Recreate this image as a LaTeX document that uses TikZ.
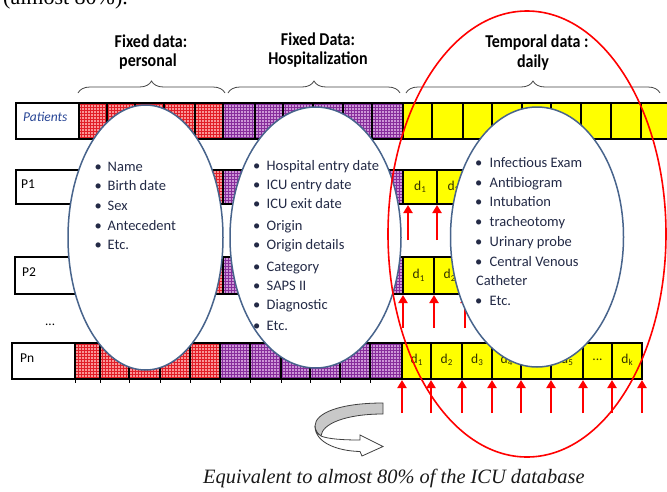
\documentclass[tikz,border=0pt]{standalone}
\usepackage{fontspec}
\setmainfont{Carlito}
\newfontfamily\capfont{Liberation Serif}
\usetikzlibrary{patterns,shapes.geometric,decorations.pathreplacing,arrows.meta}

\definecolor{redbase}{RGB}{250,150,150}
\definecolor{redgrid}{RGB}{225,30,40}
\definecolor{purplebase}{RGB}{205,150,215}
\definecolor{purplegrid}{RGB}{135,45,155}
\definecolor{cellyellow}{RGB}{255,255,0}
\definecolor{bubbleline}{RGB}{72,100,140}
\definecolor{bubbletext}{RGB}{35,42,70}
\definecolor{patblue}{RGB}{40,70,150}
\definecolor{arrowred}{RGB}{255,0,0}
\definecolor{daytext}{RGB}{50,50,0}
\definecolor{bracegray}{RGB}{70,70,70}
\definecolor{turngray}{RGB}{200,200,200}

% day cell label: d with a lowered index
\newcommand{\dsub}[1]{d\raisebox{-2.5pt}{\fontsize{9}{9}\selectfont #1}}
% slightly tall setting for the group headers
\newcommand{\tallhead}[1]{\scalebox{1}[1.13]{#1}}

% a run of cells: name prefix, top, bottom, style, list of left/right edges
\newcommand{\cellrow}[5]{%
  \foreach \a/\b [count=\i] in {#5} {
    \node[#4, anchor=north west, minimum width={(\b-\a)*1pt},
          minimum height={(#3-#2)*1pt}] (#1-\i) at (\a,#2) {};
  }}

\begin{document}
\begin{tikzpicture}[x=1pt, y=-1pt,
  cell/.style={draw=black, line width=1.1pt, inner sep=0pt, outer sep=0pt},
  whitecell/.style={cell, fill=white},
  redcell/.style={cell, preaction={fill=redbase}, pattern=grid, pattern color=redgrid},
  purplecell/.style={cell, preaction={fill=purplebase}, pattern=grid, pattern color=purplegrid},
  yellowcell/.style={cell, fill=cellyellow},
  rowframe/.style={draw=black, line width=2pt},
  uparrow/.style={draw=arrowred, line width=2pt, -{Triangle[length=8pt,width=9pt]}},
  bubble/.style={ellipse, draw=bubbleline, fill=white, line width=1.5pt, inner sep=0pt},
  listtext/.style={anchor=base west, inner sep=0pt, text=bubbletext, font=\fontsize{14.5}{16}\selectfont},
  header/.style={anchor=base, inner sep=0pt, font=\bfseries\fontsize{16}{18}\selectfont},
  rowlabel/.style={anchor=west, inner sep=0pt, font=\fontsize{13.5}{15}\selectfont},
  daylabel/.style={inner sep=0pt, text=daytext, font=\fontsize{13.5}{15}\selectfont},
  bracestyle/.style={draw=bracegray, line width=0.8pt, decorate, decoration={brace, amplitude=12pt}},
]
\useasboundingbox (0,0) rectangle (667,491);
\fill[white] (0,0) rectangle (667,491);
\begin{scope}
\clip (0,0) rectangle (667,491);

% end of the preceding text line
\node[anchor=base west, inner sep=0pt, font=\capfont\fontsize{22}{24}\selectfont] (prevline) at (3,4) {(almost 80\%).};

% group headers and braces
\node[header] (h1a) at (151,47) {\tallhead{Fixed data:}};
\node[header] (h1b) at (148,66) {\tallhead{personal}};
\node[header] (h2a) at (318,45) {\tallhead{Fixed Data:}};
\node[header] (h2b) at (318,64) {\tallhead{Hospitalization}};
\node[header] (h3a) at (537,47) {\tallhead{Temporal data :}};
\node[header] (h3b) at (533,67) {\tallhead{daily}};
\draw[bracestyle] (78,93) -- (225,93);
\draw[bracestyle] (228,93) -- (400,93);
\draw[bracestyle] (406,93) -- (660,93);

% header row
\node[whitecell, anchor=north west, minimum width=63pt, minimum height=36pt] (pat-lab) at (16,103) {};
\cellrow{pat-r}{103}{139}{redcell}{79/107,107/135,135/164,164/195,195/223}
\cellrow{pat-p}{103}{139}{purplecell}{223/255,255/283,283/313,313/343,343/372,372/403}
\cellrow{pat-y}{103}{139}{yellowcell}{403/432,432/463,463/492,492/522,522/551,551/581,581/611,611/641,641/690}
\draw[rowframe] (pat-lab.north west) rectangle (pat-y-9.south east);
\node[rowlabel, font=\itshape\fontsize{13.5}{15}\selectfont, text=patblue] (pat-text) at (23,117) {Patients};

% patient 1
\node[whitecell, anchor=north west, minimum width=63pt, minimum height=34pt] (p1-lab) at (16,170) {};
\cellrow{p1-r}{170}{204}{redcell}{79/107,107/135,135/164,164/195,195/223}
\cellrow{p1-p}{170}{204}{purplecell}{223/255,255/283,283/313,313/343,343/372,372/403}
\cellrow{p1-y}{170}{204}{yellowcell}{403/437,437/470,470/503}
\draw[rowframe] (p1-lab.north west) rectangle (p1-y-3.south east);
\node[rowlabel] (p1-text) at (21,184) {P1};
\foreach \i in {1,2} \node[daylabel] (p1-d\i) at (p1-y-\i) {\dsub{\i}};

% patient 2
\node[whitecell, anchor=north west, minimum width=63pt, minimum height=37pt] (p2-lab) at (15,257) {};
\cellrow{p2-r}{257}{294}{redcell}{78/107,107/135,135/164,164/195,195/223}
\cellrow{p2-p}{257}{294}{purplecell}{223/255,255/283,283/313,313/343,343/372,372/403}
\cellrow{p2-y}{257}{294}{yellowcell}{403/434,434/465,465/496}
\draw[rowframe] (p2-lab.north west) rectangle (p2-y-3.south east);
\node[rowlabel] (p2-text) at (22,272) {P2};
\foreach \i in {1,2} \node[daylabel] (p2-d\i) at (p2-y-\i) {\dsub{\i}};

\node[anchor=base west, inner sep=0pt, font=\fontsize{13}{14}\selectfont] (more) at (45,325) {...};

% last patient
\node[whitecell, anchor=north west, minimum width=63pt, minimum height=36pt] (pn-lab) at (12,343) {};
\cellrow{pn-r}{343}{379}{redcell}{75/100,100/129,129/160,160/190,190/220}
\cellrow{pn-p}{343}{379}{purplecell}{220/250,250/281,281/310,310/340,340/370,370/402}
\cellrow{pn-y}{343}{379}{yellowcell}{402/431,431/462,462/492,492/521,521/551,551/583,583/612,612/642}
\draw[rowframe] (pn-lab.north west) rectangle (pn-y-8.south east);
\node[rowlabel] (pn-text) at (20,358) {Pn};
\foreach \i/\t in {1/1,2/2,3/3,4/4,6/5} \node[daylabel] (pn-d\i) at ([yshift=1pt]pn-y-\i) {\dsub{\t}};
\node[daylabel] (pn-d7) at ([yshift=1pt]pn-y-7) {...};
\node[daylabel] (pn-d8) at ([yshift=1pt]pn-y-8) {\dsub{k}};
\foreach \i in {1,...,5} \draw[line width=1pt] (pn-r-\i.south west) -- ++(0,4);
\foreach \i in {1,...,6} \draw[line width=1pt] (pn-p-\i.south west) -- ++(0,4);

% daily records pointing into the rows
\foreach \i/\dx in {1/5,2/0,3/-3} {
  \coordinate (p1-a\i) at ([xshift=\dx pt, yshift=-36pt]p1-y-\i.south west);
  \draw[uparrow] (p1-a\i) -- ([xshift=\dx pt, yshift=-1pt]p1-y-\i.south west);
}
\foreach \i in {1,2,3} {
  \coordinate (p2-a\i) at ([yshift=-34pt]p2-y-\i.south west);
  \draw[uparrow] (p2-a\i) -- ([yshift=-1pt]p2-y-\i.south west);
}
\foreach \i in {1,...,8} {
  \coordinate (pn-a\i) at ([yshift=-34pt]pn-y-\i.south west);
  \draw[uparrow] (pn-a\i) -- ([yshift=-1pt]pn-y-\i.south west);
}
\coordinate (pn-a9) at ([yshift=-34pt]pn-y-8.south east);
\draw[uparrow] (pn-a9) -- ([yshift=-1pt]pn-y-8.south east);

% content bubbles
\node[bubble, minimum width=155pt, minimum height=265pt] (bub-pers) at (145.5,237.5) {};
\node[bubble, minimum width=171pt, minimum height=261pt] (bub-hosp) at (315.5,237.5) {};
\node[bubble, minimum width=173pt, minimum height=260pt] (bub-daily) at (537,237) {};

\foreach \t/\y [count=\i] in {Name/171, Birth date/190, Sex/210, Antecedent/230, Etc./249} {
  \node[listtext] (pers-b\i) at (94.5,\y) {\textbullet};
  \node[listtext] (pers-t\i) at (107.5,\y) {\t};
}
\foreach \t/\y [count=\i] in {Hospital entry date/170, ICU entry date/189, ICU exit date/208,
    Origin/230, Origin details/249, Category/271, SAPS II/290, Diagnostic/309, Etc./330} {
  \node[listtext] (hosp-b\i) at (253,\y) {\textbullet};
  \node[listtext] (hosp-t\i) at (266.5,\y) {\t};
}
\foreach \t/\y [count=\i] in {Infectious Exam/167, Antibiogram/187, Intubation/206, tracheotomy/226,
    Urinary probe/246, Central Venous/266, Etc./305} {
  \node[listtext] (daily-b\i) at (475,\y) {\textbullet};
  \node[listtext] (daily-t\i) at (489.5,\y) {\t};
}
\node[listtext] (daily-cont) at (476,285) {Catheter};

% temporal span
\node[ellipse, draw=arrowred, line width=1.6pt, inner sep=0pt,
      minimum width=278pt, minimum height=446pt] (span) at (527,234) {};

% turning arrow
\fill[turngray, draw=black!75, line width=0.8pt]
  (383,403) .. controls (340,403) and (315,413) .. (315,426)
  .. controls (315,431) and (318,434) .. (321,436)
  .. controls (322,424) and (345,414) .. (383,414) -- cycle;
\fill[white, draw=black!75, line width=0.8pt]
  (315,426) .. controls (315,443) and (338,451) .. (360,451.5)
  -- (362,456) -- (383,446.5) -- (360,435) -- (360,440)
  .. controls (343,440) and (328,439) .. (321,436)
  .. controls (318,434) and (315,431) .. (315,426) -- cycle;

\node[anchor=base west, inner sep=0pt, text=black!90,
      font=\capfont\itshape\fontsize{20.4}{22}\selectfont] (caption) at (203,483)
  {Equivalent to almost 80\% of the ICU database};
\end{scope}
\end{tikzpicture}
\end{document}
